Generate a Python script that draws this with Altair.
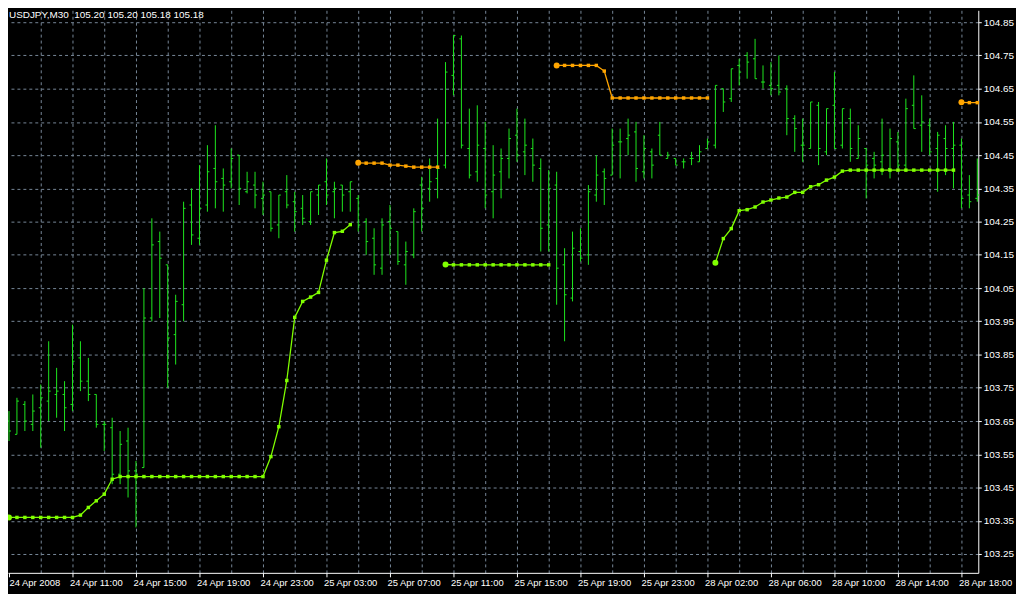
import altair as alt
import pandas as pd

# ---------------- data ----------------
bar_open = [
    103.65, 103.61, 103.70, 103.64, 103.69, 103.71, 103.73, 103.73, 103.70, 103.84,
    103.77, 103.73, 103.64, 103.63, 103.49, 103.59, 103.50, 103.51, 103.96, 104.19,
    104.12, 103.91, 104.00, 104.30, 104.20, 104.30, 104.41, 104.38, 104.37, 104.45,
    104.34, 104.36, 104.32, 104.34, 104.24, 104.34, 104.31, 104.29, 104.25, 104.33,
    104.37, 104.34, 104.36, 104.34, 104.32, 104.25, 104.20, 104.11, 104.25, 104.22,
    104.12, 104.15, 104.36, 104.35, 104.38, 104.42, 104.69, 104.80, 104.47, 104.40,
    104.47, 104.34, 104.40, 104.44, 104.51, 104.46, 104.47, 104.41, 104.24, 104.36,
    104.12, 104.02, 104.16, 104.15, 104.33, 104.40, 104.39, 104.49, 104.50, 104.52,
    104.40, 104.46, 104.51, 104.44, 104.44, 104.43, 104.44, 104.43, 104.47, 104.48,
    104.65, 104.62, 104.72, 104.75, 104.74, 104.67, 104.66, 104.66, 104.65, 104.56,
    104.48, 104.47, 104.60, 104.46, 104.60, 104.48, 104.56, 104.44, 104.47, 104.44,
    104.43, 104.41, 104.49, 104.42, 104.60, 104.54, 104.54, 104.47, 104.50, 104.47,
    104.48, 104.33, 104.32,
]
bar_high = [
    103.68, 103.72, 103.71, 103.73, 103.76, 103.89, 103.81, 103.77, 103.94, 103.89,
    103.84, 103.73, 103.65, 103.66, 103.62, 103.63, 103.53, 104.05, 104.26, 104.22,
    104.12, 104.03, 104.31, 104.35, 104.42, 104.48, 104.54, 104.41, 104.47, 104.45,
    104.40, 104.40, 104.37, 104.34, 104.33, 104.39, 104.34, 104.33, 104.34, 104.36,
    104.44, 104.37, 104.36, 104.37, 104.33, 104.26, 104.23, 104.26, 104.30, 104.22,
    104.19, 104.29, 104.385, 104.44, 104.56, 104.73, 104.81, 104.81, 104.59, 104.60,
    104.55, 104.48, 104.47, 104.53, 104.59, 104.56, 104.50, 104.44, 104.405, 104.40,
    104.17, 104.22, 104.23, 104.36, 104.45, 104.41, 104.53, 104.53, 104.56, 104.55,
    104.51, 104.47, 104.55, 104.46, 104.44, 104.44, 104.46, 104.48, 104.50, 104.66,
    104.65, 104.71, 104.74, 104.76, 104.80, 104.72, 104.73, 104.75, 104.66, 104.57,
    104.56, 104.61, 104.61, 104.59, 104.70, 104.59, 104.59, 104.54, 104.47, 104.46,
    104.56, 104.53, 104.52, 104.62, 104.69, 104.63, 104.56, 104.52, 104.54, 104.55,
    104.50, 104.39, 104.44,
]
bar_low = [
    103.59, 103.61, 103.62, 103.62, 103.57, 103.65, 103.66, 103.62, 103.68, 103.74,
    103.71, 103.63, 103.56, 103.46, 103.46, 103.42, 103.33, 103.51, 103.95, 103.96,
    103.75, 103.82, 103.95, 104.18, 104.18, 104.28, 104.29, 104.28, 104.35, 104.30,
    104.335, 104.29, 104.27, 104.22, 104.20, 104.29, 104.22, 104.24, 104.24, 104.27,
    104.30, 104.26, 104.28, 104.28, 104.22, 104.15, 104.09, 104.09, 104.15, 104.12,
    104.06, 104.14, 104.22, 104.31, 104.32, 104.41, 104.63, 104.47, 104.38, 104.37,
    104.29, 104.26, 104.32, 104.38, 104.43, 104.39, 104.37, 104.16, 104.16, 104.00,
    103.89, 104.01, 104.13, 104.12, 104.31, 104.30, 104.39, 104.38, 104.45, 104.37,
    104.38, 104.38, 104.45, 104.44, 104.42, 104.41, 104.42, 104.43, 104.47, 104.47,
    104.58, 104.61, 104.66, 104.68, 104.68, 104.65, 104.63, 104.63, 104.51, 104.46,
    104.43, 104.47, 104.42, 104.45, 104.47, 104.47, 104.43, 104.44, 104.32, 104.38,
    104.39, 104.38, 104.41, 104.40, 104.53, 104.46, 104.45, 104.34, 104.39, 104.35,
    104.29, 104.29, 104.31,
]
bar_close = [
    103.62, 103.71, 103.65, 103.68, 103.72, 103.74, 103.74, 103.69, 103.83, 103.77,
    103.73, 103.64, 103.64, 103.49, 103.58, 103.50, 103.49, 103.96, 104.18, 104.14,
    103.90, 104.01, 104.29, 104.21, 104.29, 104.40, 104.37, 104.36, 104.44, 104.35,
    104.37, 104.33, 104.33, 104.23, 104.33, 104.30, 104.28, 104.26, 104.34, 104.36,
    104.33, 104.35, 104.33, 104.37, 104.24, 104.19, 104.12, 104.24, 104.23, 104.13,
    104.16, 104.28, 104.29, 104.37, 104.41, 104.70, 104.81, 104.48, 104.39, 104.48,
    104.33, 104.39, 104.44, 104.50, 104.45, 104.48, 104.42, 104.23, 104.35, 104.11,
    104.03, 104.17, 104.14, 104.34, 104.39, 104.38, 104.48, 104.49, 104.51, 104.41,
    104.47, 104.42, 104.45, 104.45, 104.42, 104.43, 104.44, 104.46, 104.49, 104.66,
    104.61, 104.71, 104.70, 104.73, 104.68, 104.67, 104.65, 104.64, 104.56, 104.53,
    104.48, 104.61, 104.47, 104.59, 104.47, 104.59, 104.47, 104.50, 104.42, 104.42,
    104.45, 104.50, 104.42, 104.59, 104.53, 104.55, 104.46, 104.51, 104.47, 104.48,
    104.32, 104.31, 104.33,
]

# indicator segments: (first bar index, values)
green1_start = 0
green1 = [
    103.36, 103.36, 103.36, 103.36, 103.36, 103.36, 103.36, 103.36, 103.36,
    103.367, 103.39, 103.41, 103.43, 103.475,
    103.483, 103.483, 103.483, 103.483, 103.483, 103.483, 103.483, 103.483, 103.483, 103.483,
    103.483, 103.483, 103.483, 103.483, 103.483, 103.483, 103.483, 103.483, 103.483,
    103.543, 103.633, 103.772, 103.962, 104.01, 104.023, 104.037, 104.134, 104.217, 104.221, 104.241,
]
orange1_start = 44
orange1 = [104.427, 104.426, 104.426, 104.426, 104.42, 104.42, 104.417, 104.414, 104.414, 104.414, 104.414]
green2_start = 55
green2 = [
    104.121, 104.12, 104.12, 104.12, 104.12, 104.12, 104.12,
    104.12, 104.12, 104.12, 104.12, 104.12, 104.12, 104.12,
]
orange2_start = 69
orange2 = [
    104.72, 104.72, 104.72, 104.72, 104.72, 104.72, 104.703,
    104.622, 104.622, 104.622, 104.622, 104.622, 104.622, 104.622,
    104.622, 104.622, 104.622, 104.622, 104.622, 104.622,
]
green3_start = 89
green3 = [
    104.126, 104.199, 104.229, 104.283, 104.286, 104.294, 104.309, 104.315, 104.321, 104.324,
    104.338, 104.338, 104.355, 104.361, 104.375, 104.384, 104.402,
    104.405, 104.405, 104.405, 104.405, 104.405, 104.405, 104.405,
    104.405, 104.405, 104.405, 104.405, 104.405, 104.405, 104.405,
]
orange3_start = 120
orange3 = [104.609, 104.608, 104.608]

x_tick_pos = [0, 8, 16, 24, 32, 40, 48, 56, 64, 72, 80, 88, 96, 104, 112, 120]
x_tick_labels = [
    "24 Apr 2008", "24 Apr 11:00", "24 Apr 15:00", "24 Apr 19:00", "24 Apr 23:00",
    "25 Apr 03:00", "25 Apr 07:00", "25 Apr 11:00", "25 Apr 15:00", "25 Apr 19:00",
    "25 Apr 23:00", "28 Apr 02:00", "28 Apr 06:00", "28 Apr 10:00", "28 Apr 14:00",
    "28 Apr 18:00",
]
x_grid_pos = [0, 4, 8, 12, 16, 20, 24, 28, 32, 36, 40, 44, 48, 52, 56, 60, 64, 68, 72,
              76, 80, 84, 88, 92, 96, 100, 104, 108, 112, 116, 120]
y_ticks = [103.25, 103.35, 103.45, 103.55, 103.65, 103.75, 103.85, 103.95, 104.05,
           104.15, 104.25, 104.35, 104.45, 104.55, 104.65, 104.75, 104.85]
header_text = "USDJPY,M30\u00a0\u00a0105.20 105.20 105.18 105.18"

# ---------------- styling ----------------
BAR = "#1ee81e"
GREEN = "#80ff00"
ORANGE = "#ffa500"
GRID = "#778899"
FONT = "Liberation Sans"
FS = 10
FSX = 9.5

W, H = 978, 567

bars_df = pd.DataFrame({
    "idx": list(range(len(bar_open))),
    "open": bar_open, "high": bar_high, "low": bar_low, "close": bar_close,
})

rows = []
for seg_id, (start, vals, col) in enumerate([
    (green1_start, green1, GREEN), (orange1_start, orange1, ORANGE),
    (green2_start, green2, GREEN), (orange2_start, orange2, ORANGE),
    (green3_start, green3, GREEN), (orange3_start, orange3, ORANGE),
]):
    for k, v in enumerate(vals):
        rows.append({"idx": start + k, "val": v, "seg": seg_id, "col": col, "first": k == 0})
ind_df = pd.DataFrame(rows)

label_expr = "''"
for p, l in reversed(list(zip(x_tick_pos, x_tick_labels))):
    label_expr = f"datum.value == {p} ? '{l}' : ({label_expr})"

xscale = alt.Scale(domain=[-0.125, 122.125], nice=False, zero=False)
yscale = alt.Scale(domain=[104.85 - 555 / 335.0, 104.85 + 12 / 335.0], nice=False, zero=False)

xaxis = alt.Axis(
    values=x_grid_pos, title=None, grid=True, gridColor=GRID, gridDash=[3, 3], gridWidth=1,
    gridOpacity={"condition": {"test": "datum.value == 0", "value": 0}, "value": 1},
    tickColor="white", tickSize=4,
    tickOpacity={"condition": {"test": "datum.value % 8 == 0", "value": 1}, "value": 0},
    labelExpr=label_expr, labelAlign="left", labelColor="white", labelFont=FONT,
    labelFontSize=FSX, labelPadding=1, labelFlush=False, labelOverlap=False, labelBound=False,
    labelOffset={"condition": {"test": "datum.value == 0", "value": 0}, "value": -3},
    domainColor="white", domainWidth=1,
)
yaxis = alt.Axis(
    orient="right", values=y_ticks, format=".2f", title=None, grid=True, gridColor=GRID,
    gridDash=[3, 3], gridWidth=1, tickColor="white", tickSize=3, labelColor="white",
    labelFont=FONT, labelFontSize=FS, labelPadding=2, labelOverlap=False,
    domainColor="white", domainWidth=1,
)


def X(field="idx"):
    return alt.X(f"{field}:Q", scale=xscale, axis=xaxis)


def Y(field):
    return alt.Y(f"{field}:Q", scale=yscale, axis=yaxis)


base_bars = alt.Chart(bars_df)
hl = base_bars.mark_rule(color=BAR, strokeWidth=1).encode(x=X(), y=Y("low"), y2="high")
op = base_bars.mark_rule(color=BAR, strokeWidth=1, xOffset=-2, x2Offset=0).encode(
    x=X(), x2="idx:Q", y=Y("open"))
cl = base_bars.mark_rule(color=BAR, strokeWidth=1, xOffset=0, x2Offset=2).encode(
    x=X(), x2="idx:Q", y=Y("close"))

base_ind = alt.Chart(ind_df)
lines = base_ind.mark_line(strokeWidth=1.3).encode(
    x=X(), y=Y("val"), detail="seg:N", color=alt.Color("col:N", scale=None))
squares = base_ind.mark_square(size=12, opacity=1).encode(
    x=X(), y=Y("val"), color=alt.Color("col:N", scale=None))
starts = base_ind.transform_filter("datum.first").mark_circle(size=36, opacity=1).encode(
    x=X(), y=Y("val"), color=alt.Color("col:N", scale=None))

header = alt.Chart(pd.DataFrame({"t": [header_text]})).mark_text(
    align="left", baseline="alphabetic", color="white", font=FONT, fontSize=FS,
).encode(x=alt.value(1), y=alt.value(7.5), text="t:N")

chart = alt.layer(hl, op, cl, lines, squares, starts, header).properties(
    width=W, height=H,
    autosize=alt.AutoSizeParams(type="none"),
    padding={"left": 0, "top": 0, "right": 38, "bottom": 19},
    background="#000000",
).configure_view(strokeWidth=0)

chart.save("out.html", embed_options={"renderer": "svg", "actions": False})
